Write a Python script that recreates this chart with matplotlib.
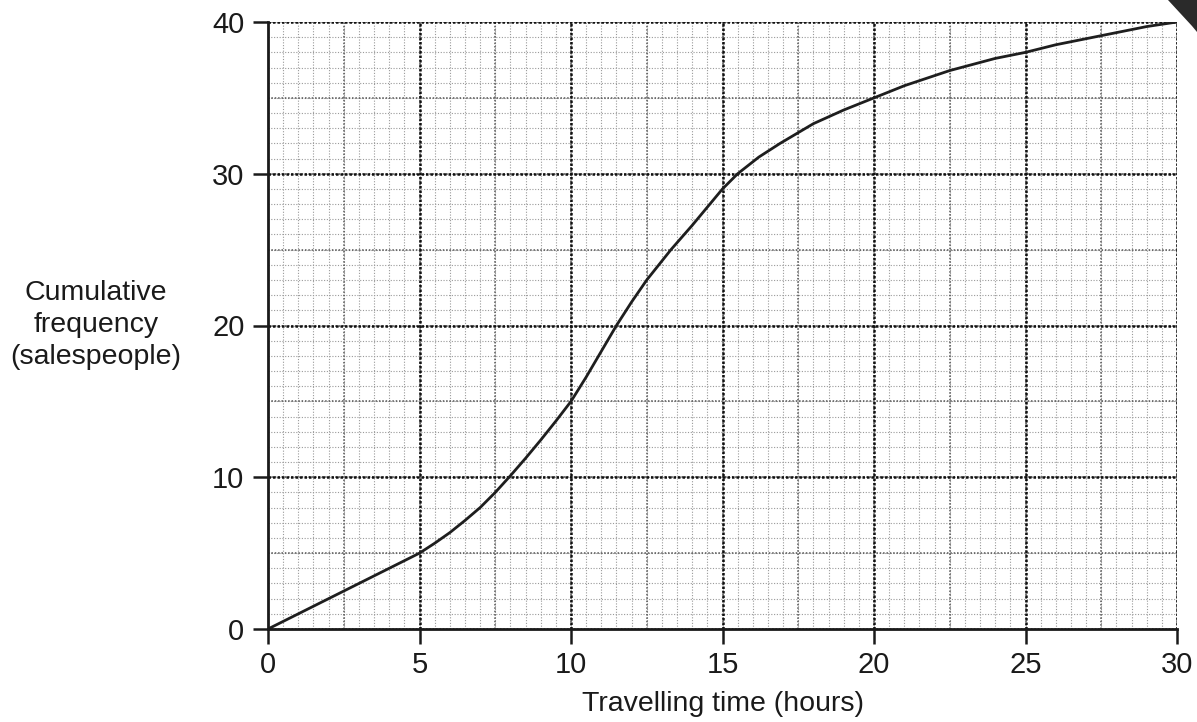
import numpy as np
import matplotlib
matplotlib.use("Agg")
import matplotlib.pyplot as plt
from matplotlib.patches import Polygon

# Data
time_hours = [0, 1, 2.5, 4, 5, 5.5, 6, 6.5, 7, 7.5, 8, 8.5, 9, 9.5, 10, 10.5, 11, 11.5, 12, 12.5,
              13.3, 14, 14.5, 15, 15.5, 16.2, 16.9, 18, 19, 20, 21, 22.5, 24, 25, 26, 27.5, 29, 30]
cum_freq   = [0, 1, 2.5, 4, 5, 5.65, 6.35, 7.15, 8.0, 9.0, 10.1, 11.25, 12.45, 13.7, 15, 16.6, 18.3, 20, 21.55, 23,
              25, 26.6, 27.8, 29, 30, 31.1, 32, 33.3, 34.2, 35, 35.8, 36.8, 37.6, 38, 38.5, 39.1, 39.7, 40]

x_ticks = [0, 5, 10, 15, 20, 25, 30]
y_ticks = [0, 10, 20, 30, 40]

plt.rcParams['font.family'] = ['Liberation Sans', 'DejaVu Sans']

W, H = 1197, 722
fig = plt.figure(figsize=(W / 100, H / 100), dpi=100)
ax = fig.add_axes([268 / W, 1 - 629 / H, (1177 - 268) / W, (629 - 22) / H])

ax.set_xlim(0, 30)
ax.set_ylim(0, 40)

# Grid: three levels
minor_x = np.arange(0, 30.01, 0.5)
minor_y = np.arange(0, 40.01, 1)
mid_x = np.arange(0, 30.01, 2.5)
mid_y = np.arange(0, 40.01, 5)
maj_x = np.arange(0, 30.01, 5)
maj_y = np.arange(0, 40.01, 10)

kw_min = dict(colors='#9a9a9a', linewidth=0.8, linestyles=(0, (1, 1.5)), zorder=1)
kw_mid = dict(colors='#555555', linewidth=1.1, linestyles=(0, (1, 1.2)), zorder=1.2)
kw_maj = dict(colors='#111111', linewidth=1.8, linestyles=(0, (1, 0.8)), zorder=1.4)
ax.vlines(minor_x, 0, 40, **kw_min)
ax.hlines(minor_y, 0, 30, **kw_min)
ax.vlines(mid_x, 0, 40, **kw_mid)
ax.hlines(mid_y, 0, 30, **kw_mid)
ax.vlines(maj_x[1:], 0, 40, **kw_maj)
ax.hlines(maj_y[1:], 0, 30, **kw_maj)

ax.plot(time_hours, cum_freq, color='#1e1e1e', linewidth=2.0, zorder=3,
        solid_capstyle='round', solid_joinstyle='round')

for s in ['top', 'right']:
    ax.spines[s].set_visible(False)
for s in ['left', 'bottom']:
    ax.spines[s].set_linewidth(2.0)
    ax.spines[s].set_color('#1a1a1a')
    ax.spines[s].set_zorder(4)

ax.set_xticks(x_ticks)
ax.set_yticks(y_ticks)
ax.set_xticklabels([str(v) for v in x_ticks])
ax.set_yticklabels([str(v) for v in y_ticks])
ax.tick_params(axis='both', direction='out', length=11, width=1.8,
               color='#1a1a1a', labelsize=21, labelcolor='#1a1a1a')
ax.tick_params(axis='x', pad=5)
ax.tick_params(axis='y', pad=6)
for t in ax.xaxis.get_major_ticks() + ax.yaxis.get_major_ticks():
    t.tick1line.set_clip_on(False)

fig.text(723 / W, 1 - 704 / H, 'Travelling time (hours)', ha='center', va='center',
         fontsize=20.5, color='#1a1a1a')
fig.text(96 / W, 1 - 325 / H, 'Cumulative\nfrequency\n(salespeople)', ha='center', va='center',
         fontsize=20.5, color='#1a1a1a', linespacing=1.3)

# pencil tip at top-right corner
poly = Polygon([[1168 / W, 1.0], [1197 / W, 1.0], [1197 / W, 1 - 32 / H], [1192 / W, 1 - 26 / H]],
               closed=True, transform=fig.transFigure, facecolor='#2a2a2a', edgecolor='none')
fig.add_artist(poly)

fig.savefig('out.png', dpi=100)
